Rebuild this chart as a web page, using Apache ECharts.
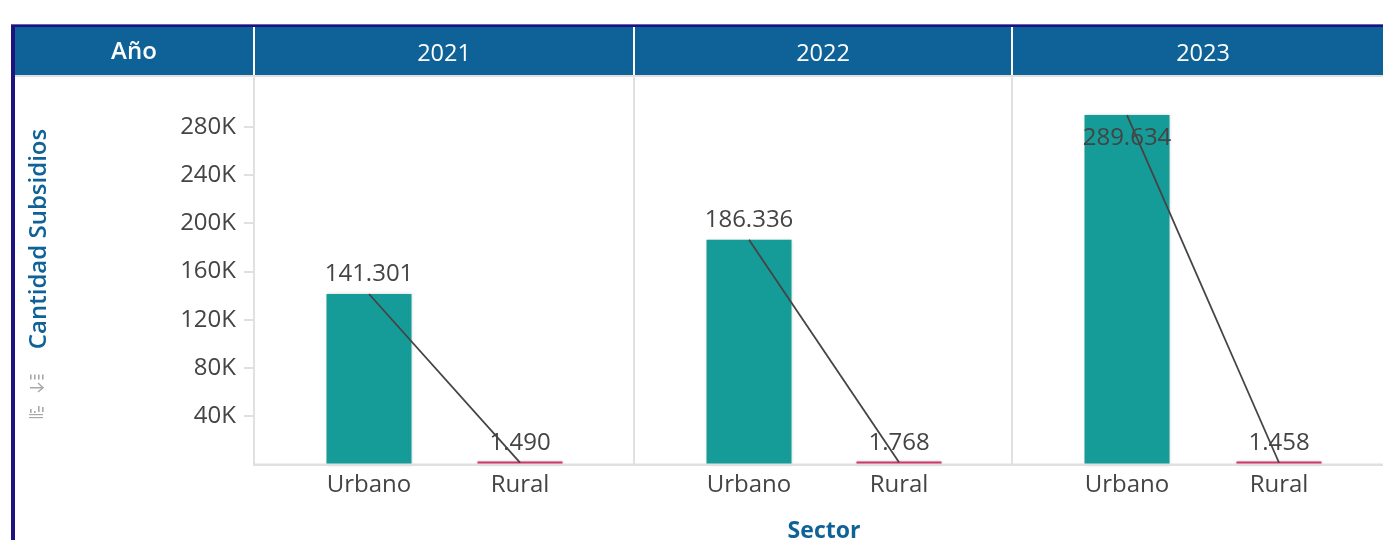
<!DOCTYPE html>
<html>
<head>
<meta charset="utf-8">
<style>
  html, body { margin: 0; padding: 0; background: #fff; }
  #chart { width: 1383px; height: 540px; }
</style>
<script src="https://cdn.jsdelivr.net/npm/echarts@6/dist/echarts.min.js"></script>
</head>
<body>
<div id="chart"></div>
<script>
const years = ['2021', '2022', '2023'];
const sectors = ['Urbano', 'Rural'];
const values2021 = [141301, 1490];
const values2022 = [186336, 1768];
const values2023 = [289634, 1458];
const yTicks = [40000, 80000, 120000, 160000, 200000, 240000, 280000];

const yearValues = [values2021, values2022, values2023];
const sectorColors = ['#169c98', '#d0356e'];
const font = '"Open Sans", "Noto Sans", sans-serif';
const textColor = '#444444';
const blue = '#0f6297';
const frame = '#e0e0e0';
const axisMax = 322000;

// plot areas are narrower than the header cells
const plots = [
  { left: 293.5, width: 302, edge: 254 },
  { left: 674, width: 300, edge: 634 },
  { left: 1051, width: 304, edge: 1012 }
];
const plotTop = 76;
const plotHeight = 388.5;

function fmt(v) {
  return String(v).replace(/\B(?=(\d{3})+$)/g, '.');
}

function barLabel(v) {
  // the tallest bar has no room above it
  if (v > 280000) return { position: 'insideTop', distance: 11 };
  if (v < 10000) return { position: 'top', distance: 6 };
  return { position: 'top', distance: 8 };
}

const grid = plots.map(p => ({ left: p.left, width: p.width, top: plotTop, height: plotHeight, containLabel: false }));

const xAxis = plots.map((p, i) => ({
  type: 'category',
  gridIndex: i,
  data: sectors,
  axisLine: { show: false },
  axisTick: { show: false },
  axisLabel: { color: textColor, fontFamily: font, fontSize: 24, margin: 9 }
}));

const yAxis = plots.map((p, i) => ({
  type: 'value',
  gridIndex: i,
  min: 0,
  max: axisMax,
  interval: 40000,
  offset: p.left - p.edge,
  splitLine: { show: false },
  axisLine: { show: true, lineStyle: { color: frame, width: 2 } },
  axisTick: { show: i === 0, customValues: yTicks, length: 10, lineStyle: { color: frame, width: 2 } },
  axisLabel: {
    show: i === 0,
    customValues: yTicks,
    color: textColor,
    fontFamily: font,
    fontSize: 24,
    margin: 18,
    formatter: v => v / 1000 + 'K'
  }
}));

const barSeries = yearValues.map((vals, i) => ({
  type: 'bar',
  xAxisIndex: i,
  yAxisIndex: i,
  barWidth: 85,
  barMinHeight: 3,
  data: vals.map((v, j) => ({
    value: v,
    // soft pale outline sits outside the fill
    itemStyle: { color: sectorColors[j], borderWidth: 0, shadowBlur: 3, shadowColor: '#c8c8c8' },
    label: barLabel(v)
  })),
  label: {
    show: true,
    color: textColor,
    fontFamily: font,
    fontSize: 24,
    formatter: p => fmt(p.value)
  }
}));

const lineSeries = yearValues.map((vals, i) => ({
  type: 'line',
  xAxisIndex: i,
  yAxisIndex: i,
  data: vals,
  symbol: 'none',
  z: 5,
  lineStyle: { color: '#444444', width: 1.8 }
}));

function rect(x, y, w, h, fill, z) {
  return { type: 'rect', shape: { x, y, width: w, height: h }, style: { fill }, z: z || 10, silent: true };
}
function label(text, x, y, size, color, weight, rotation) {
  return {
    type: 'text', x, y, rotation: rotation || 0, z: 12, silent: true,
    style: { text, fill: color, font: `${weight} ${size}px ${font}`, align: 'center', verticalAlign: 'middle' }
  };
}

const graphic = [
  // outer border and header band
  rect(11, 24, 1372, 1, '#6a5fb0'),
  rect(11, 25, 1372, 3, '#1c1280'),
  rect(11, 25, 4, 515, '#1c1280'),
  rect(15, 27, 1368, 48, blue),
  rect(15, 75, 1368, 2, frame),
  rect(253, 27, 2, 48, '#ffffff', 11),
  rect(633, 27, 2, 48, '#ffffff', 11),
  rect(1011, 27, 2, 48, '#ffffff', 11),
  // baseline across all panels
  rect(253, 463.5, 1130, 2.5, frame),
  label('Año', 134, 52, 24, '#ffffff', 600),
  label(years[0], 444, 54, 23.5, '#ffffff', 400),
  label(years[1], 823, 54, 23.5, '#ffffff', 400),
  label(years[2], 1203, 54, 23.5, '#ffffff', 400),
  label('Cantidad Subsidios', 39, 239, 24, blue, 600, Math.PI / 2),
  label('Sector', 824, 531.5, 23, blue, 700)
];

// sort and chart-type icons under the axis name
const iconGray = '#a8a8a8';
[30, 34, 38, 42].forEach(x => graphic.push(rect(x, 374.5, 1.6, 5, iconGray)));
graphic.push(rect(30, 387, 13, 1.5, iconGray));
graphic.push({
  type: 'polyline', shape: { points: [[38, 383], [43, 387.7], [38, 392]] },
  style: { stroke: iconGray, lineWidth: 1.5, fill: 'none' }, z: 10, silent: true
});
[[30, 409, 4], [34, 411, 2], [38, 406, 6], [42, 407, 5]].forEach(b => graphic.push(rect(b[0], b[1], 1.6, b[2], iconGray)));
graphic.push(rect(29, 414, 14, 1.2, iconGray));
graphic.push(rect(29, 417, 14, 1.2, iconGray));

const chart = echarts.init(document.getElementById('chart'));
chart.setOption({
  animation: false,
  backgroundColor: '#ffffff',
  grid,
  xAxis,
  yAxis,
  series: [...barSeries, ...lineSeries],
  graphic
});
</script>
</body>
</html>
